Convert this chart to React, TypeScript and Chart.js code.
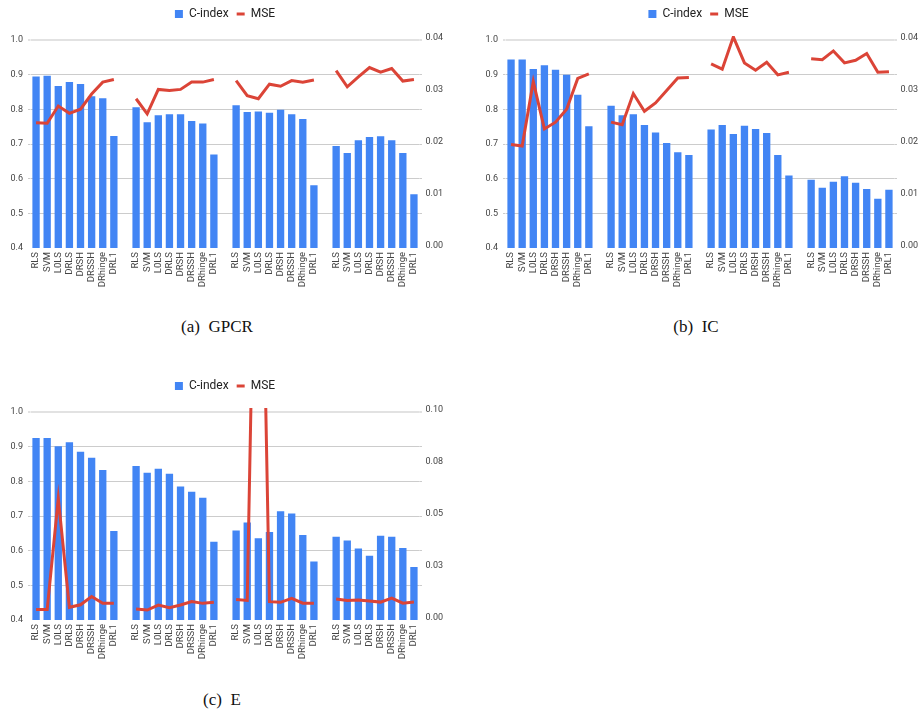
import React, { useEffect, useRef } from 'react';
import { Chart, registerables } from 'chart.js';

Chart.register(...registerables);
Chart.defaults.font.family = 'Roboto, "Noto Sans", sans-serif';

// ---- data ----
const methods = ['RLS', 'SVM', 'L0LS', 'DRLS', 'DRSH', 'DRSSH', 'DRhinge', 'DRL1'];

const leftTickLabels = ['0.4', '0.5', '0.6', '0.7', '0.8', '0.9', '1.0'];
const rightTickLabelsSmall = ['0.00', '0.01', '0.02', '0.03', '0.04'];
const rightTickLabelsE = ['0.00', '0.03', '0.05', '0.08', '0.10'];

const gpcrCIndex = [
  [0.895, 0.897, 0.867, 0.879, 0.873, 0.838, 0.832, 0.723],
  [0.806, 0.763, 0.783, 0.786, 0.786, 0.766, 0.759, 0.670],
  [0.812, 0.792, 0.794, 0.790, 0.799, 0.786, 0.772, 0.581],
  [0.694, 0.674, 0.711, 0.720, 0.722, 0.711, 0.674, 0.555],
];
const gpcrMse = [
  [0.0241, 0.0240, 0.0273, 0.0259, 0.0267, 0.0296, 0.0319, 0.0324],
  [0.0287, 0.0258, 0.0305, 0.0303, 0.0305, 0.0319, 0.0319, 0.0324],
  [0.0322, 0.0293, 0.0287, 0.0315, 0.0311, 0.0322, 0.0319, 0.0323],
  [0.0341, 0.0310, 0.0329, 0.0347, 0.0338, 0.0345, 0.0321, 0.0324],
];

const icCIndex = [
  [0.944, 0.944, 0.916, 0.927, 0.914, 0.900, 0.842, 0.751],
  [0.810, 0.783, 0.786, 0.755, 0.733, 0.703, 0.676, 0.668],
  [0.742, 0.755, 0.729, 0.753, 0.743, 0.732, 0.668, 0.609],
  [0.597, 0.574, 0.591, 0.607, 0.588, 0.570, 0.542, 0.568],
];
const icMse = [
  [0.0199, 0.0196, 0.0320, 0.0229, 0.0242, 0.0267, 0.0326, 0.0335],
  [0.0242, 0.0237, 0.0297, 0.0263, 0.0279, 0.0303, 0.0327, 0.0328],
  [0.0354, 0.0344, 0.0406, 0.0356, 0.0342, 0.0357, 0.0333, 0.0338],
  [0.0364, 0.0362, 0.0379, 0.0356, 0.0361, 0.0374, 0.0338, 0.0339],
];

const eCIndex = [
  [0.925, 0.925, 0.901, 0.913, 0.885, 0.868, 0.833, 0.657],
  [0.844, 0.825, 0.836, 0.822, 0.785, 0.770, 0.753, 0.626],
  [0.658, 0.681, 0.636, 0.654, 0.714, 0.707, 0.645, 0.569],
  [0.640, 0.629, 0.606, 0.585, 0.643, 0.640, 0.608, 0.553],
];
const eMse = [
  [0.0050, 0.0050, 0.0585, 0.0061, 0.0073, 0.0113, 0.0080, 0.0080],
  [0.0053, 0.0048, 0.0072, 0.0059, 0.0072, 0.0089, 0.0080, 0.0085],
  [0.0099, 0.0094, 0.29, 0.0088, 0.0085, 0.0104, 0.0081, 0.0081],
  [0.0101, 0.0094, 0.0096, 0.0091, 0.0086, 0.0105, 0.0081, 0.0086],
];

// ---- helpers ----
function buildCategories(): string[] {
  const out: string[] = [];
  for (let g = 0; g < 4; g++) {
    if (g > 0) out.push('');
    out.push(...methods);
  }
  return out;
}
function flatten(groups: number[][]): (number | null)[] {
  const out: (number | null)[] = [];
  groups.forEach((grp, g) => {
    if (g > 0) out.push(null);
    out.push(...grp);
  });
  return out;
}

const BLUE = '#4285F4';
const RED = '#DB4437';
const GRID = '#cccccc';
const GRID_TOP = '#e2e2e2';
const TICK = '#444444';

const gridExtend = {
  id: 'gridExtend',
  beforeDatasetsDraw(chart: any) {
    const y = chart.scales.y;
    const { left, right } = chart.chartArea;
    const ctx = chart.ctx;
    ctx.save();
    y.ticks.forEach((t: any) => {
      if (t.value <= 0.4 + 1e-9) return;
      const isTop = Math.abs(t.value - 1) < 1e-9;
      const py = y.getPixelForValue(t.value);
      const ay = isTop ? Math.round(py) : Math.round(py - 0.5) + 0.5;
      ctx.strokeStyle = isTop ? GRID_TOP : GRID;
      ctx.lineWidth = isTop ? 2 : 1;
      ctx.beginPath();
      ctx.moveTo(left - 2.5, ay);
      ctx.lineTo(left, ay);
      ctx.moveTo(right, ay);
      ctx.lineTo(right + 2.5, ay);
      ctx.stroke();
    });
    ctx.restore();
  },
};

const legendSpacer = {
  id: 'legendSpacer',
  beforeLayout(chart: any) {
    const lg = chart.legend;
    if (lg && !lg._spacerPatched) {
      const orig = lg.fit.bind(lg);
      lg.fit = function () {
        orig();
        this.height = 40;
      };
      lg._spacerPatched = true;
    }
  },
};

type Props = {
  left: number;
  top: number;
  width: number;
  height: number;
  leftW: number;
  rightW: number;
  cIndex: number[][];
  mse: number[][];
  rightMax: number;
  rightStep: number;
  rightLabels: string[];
};

function ComboChart(p: Props) {
  const ref = useRef<HTMLCanvasElement>(null);
  useEffect(() => {
    const chart = new Chart(ref.current as HTMLCanvasElement, {
      type: 'bar',
      data: {
        labels: buildCategories(),
        datasets: [
          {
            type: 'bar',
            label: 'C-index',
            data: flatten(p.cIndex),
            backgroundColor: BLUE,
            borderWidth: 0,
            barPercentage: 0.66,
            categoryPercentage: 1,
            yAxisID: 'y',
            order: 2,
            pointStyle: 'rect',
          } as any,
          {
            type: 'line',
            label: 'MSE',
            data: flatten(p.mse),
            borderColor: RED,
            backgroundColor: RED,
            borderWidth: 3,
            pointRadius: 0,
            pointHoverRadius: 0,
            tension: 0,
            spanGaps: false,
            yAxisID: 'y1',
            order: 1,
            pointStyle: 'line',
            clip: { left: 5, top: 4, right: 5, bottom: 5 },
          } as any,
        ],
      },
      options: {
        animation: false,
        responsive: false,
        maintainAspectRatio: false,
        layout: { padding: 0 },
        plugins: {
          tooltip: { enabled: false },
          legend: {
            position: 'top',
            align: 'center',
            labels: {
              usePointStyle: true,
              pointStyleWidth: 8,
              boxWidth: 8,
              boxHeight: 8,
              padding: 8,
              color: '#222222',
              font: { size: 12 },
              sort: (a: any, b: any) => a.datasetIndex - b.datasetIndex,
            },
          },
        },
        scales: {
          x: {
            grid: { display: false, drawTicks: false },
            border: { display: false },
            ticks: {
              autoSkip: false,
              maxRotation: 90,
              minRotation: 90,
              padding: 4,
              color: TICK,
              font: { size: 9.5 },
            },
            afterFit: (s: any) => {
              s.height = 50;
            },
          },
          y: {
            position: 'left',
            min: 0.4,
            max: 1.0,
            border: { display: false },
            grid: {
              drawTicks: false,
              color: (c: any) =>
                c.tick && c.tick.value <= 0.4 + 1e-9
                  ? 'rgba(0,0,0,0)'
                  : c.tick && Math.abs(c.tick.value - 1) < 1e-9
                  ? GRID_TOP
                  : GRID,
              lineWidth: (c: any) => (c.tick && Math.abs(c.tick.value - 1) < 1e-9 ? 2 : 1),
            },
            ticks: {
              stepSize: 0.1,
              padding: 7.5,
              color: TICK,
              font: { size: 9 },
              callback: (_v: any, i: number) => leftTickLabels[i],
            },
            afterFit: (s: any) => {
              s.width = p.leftW;
            },
          },
          y1: {
            position: 'right',
            min: 0,
            max: p.rightMax,
            border: { display: false },
            grid: { display: false, drawTicks: false },
            ticks: {
              stepSize: p.rightStep,
              padding: 6,
              labelOffset: -2,
              color: TICK,
              font: { size: 9 },
              callback: (_v: any, i: number) => p.rightLabels[i],
            },
            afterFit: (s: any) => {
              s.width = p.rightW;
            },
          },
        },
      },
      plugins: [gridExtend, legendSpacer],
    } as any);
    return () => chart.destroy();
  }, []);
  return (
    <canvas
      ref={ref}
      width={p.width}
      height={p.height}
      style={{ position: 'absolute', left: p.left, top: p.top, width: p.width, height: p.height, display: 'block' }}
    />
  );
}

function Caption({ cx, cy, text }: { cx: number; cy: number; text: string }) {
  return (
    <div
      style={{
        position: 'absolute',
        left: cx - 100,
        top: cy - 10,
        width: 200,
        height: 20,
        lineHeight: '20px',
        textAlign: 'center',
        fontFamily: '"Liberation Serif", "DejaVu Serif", serif',
        fontSize: 17,
        color: '#111',
        whiteSpace: 'pre',
      }}
    >
      {text}
    </div>
  );
}

export default function App() {
  return (
    <div style={{ position: 'absolute', left: 0, top: 0, width: 922, height: 711, background: '#fff', overflow: 'hidden' }}>
      <ComboChart
        left={0}
        top={0}
        width={450}
        height={298}
        leftW={30.5}
        rightW={30.5}
        cIndex={gpcrCIndex}
        mse={gpcrMse}
        rightMax={0.04}
        rightStep={0.01}
        rightLabels={rightTickLabelsSmall}
      />
      <ComboChart
        left={475}
        top={0}
        width={447}
        height={298}
        leftW={30.5}
        rightW={27.5}
        cIndex={icCIndex}
        mse={icMse}
        rightMax={0.04}
        rightStep={0.01}
        rightLabels={rightTickLabelsSmall}
      />
      <ComboChart
        left={0}
        top={372}
        width={450}
        height={298}
        leftW={30.5}
        rightW={30.5}
        cIndex={eCIndex}
        mse={eMse}
        rightMax={0.1}
        rightStep={0.025}
        rightLabels={rightTickLabelsE}
      />
      <Caption cx={217} cy={327} text="(a)  GPCR" />
      <Caption cx={696} cy={327} text="(b)  IC" />
      <Caption cx={222} cy={700} text="(c)  E" />
    </div>
  );
}
